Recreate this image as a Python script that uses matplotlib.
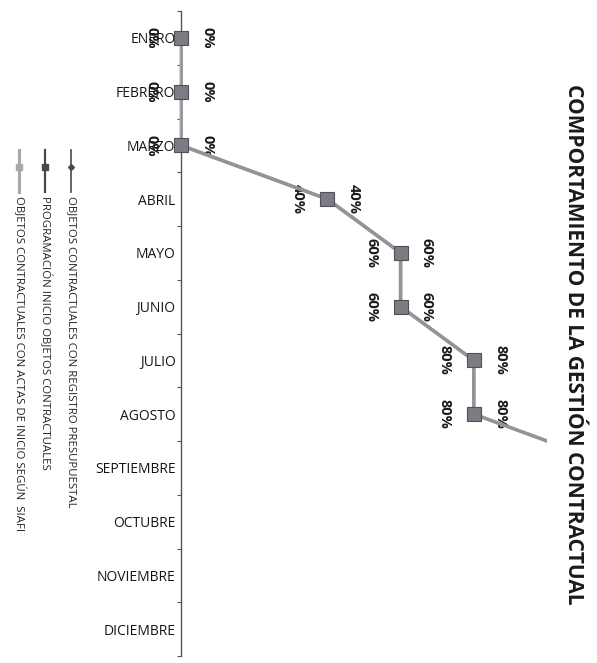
import numpy as np
import matplotlib
matplotlib.use("Agg")
import matplotlib.pyplot as plt
from matplotlib.lines import Line2D

plt.rcParams["font.family"] = ["Open Sans", "DejaVu Sans"]

MONTHS = ["ENERO", "FEBRERO", "MARZO", "ABRIL", "MAYO", "JUNIO", "JULIO",
          "AGOSTO", "SEPTIEMBRE", "OCTUBRE", "NOVIEMBRE", "DICIEMBRE"]
# values (fraction); NaN = no data
registro = [0.0, 0.0, 0.0, 0.4, 0.6, 0.6, 0.8, 0.8] + [np.nan] * 4
programacion = [0.0, 0.0, 0.0, 0.4, 0.6, 0.6, 0.8, 0.8, 1.2] + [np.nan] * 3
siafi = [0.0, 0.0, 0.0, 0.4, 0.6, 0.6, 0.8, 0.8] + [np.nan] * 4

LEGEND = ["OBJETOS CONTRACTUALES CON REGISTRO PRESUPUESTAL",
          "PROGRAMACIÓN INICIO OBJETOS CONTRACTUALES",
          "OBJETOS CONTRACTUALES CON ACTAS DE INICIO SEGÚN  SIAFI"]
TITLE = "COMPORTAMIENTO DE LA GESTIÓN CONTRACTUAL"

DARK = "#4a4a4e"; MID = "#939398"; LIGHT = "#a8a8ac"

W, H = 597, 663
fig = plt.figure(figsize=(W / 100, H / 100), dpi=100)
ax = fig.add_axes([181 / W, 7 / H, (547 - 181) / W, (656 - 11) / H])

y = np.arange(len(MONTHS))
ax.plot(registro, y, "-", color=DARK, lw=1.2, marker="D", ms=3, zorder=2, clip_on=False)
ax.plot(siafi, y, "-", color=LIGHT, lw=2.2, zorder=3, clip_on=False)
ax.plot(programacion, y, "-", color=MID, lw=2.6, zorder=4)
ax.plot(programacion[:8], y[:8], "s", ms=10, mfc="#7c7c84", mec="#505056", mew=0.8,
        zorder=5, clip_on=False)

for v, yy in zip(registro, y):
    if not np.isnan(v):
        ax.annotate("%d%%" % round(v * 100), (v, yy), textcoords="offset points",
                    xytext=(-21, 0), ha="center", va="center", rotation=270,
                    fontsize=10.5, fontweight="bold", color="#1a1a1a")
for v, yy in zip(programacion, y):
    if not np.isnan(v):
        ax.annotate("%d%%" % round(v * 100), (v, yy), textcoords="offset points",
                    xytext=(19, 0), ha="center", va="center", rotation=270,
                    fontsize=10.5, fontweight="bold", color="#1a1a1a",
                    annotation_clip=True)

ax.set_xlim(0, 1.0)
ax.set_ylim(len(MONTHS) - 0.5, -0.5)
ax.set_yticks(y)
ax.set_yticklabels(MONTHS, fontsize=10, color="#151515")
ax.set_yticks(np.arange(-0.5, len(MONTHS), 1), minor=True)
ax.tick_params(axis="y", which="major", length=0, pad=4)
ax.tick_params(axis="y", which="minor", length=3, color="#555555", width=0.8)
ax.set_xticks([])
for s in ["top", "right", "bottom"]:
    ax.spines[s].set_visible(False)
ax.spines["left"].set_color("#555555")
ax.spines["left"].set_linewidth(1.0)

fig.text(574 / W, 1 - 344 / H, TITLE, rotation=270, ha="center", va="center",
         fontsize=15, fontweight="bold", color="#1a1a1a")

# legend, rotated like the rest of the scan
leg_x = [71, 45, 19]
leg_style = [dict(color=DARK, lw=1.2, marker="D", ms=3),
             dict(color=DARK, lw=1.6, marker="s", ms=5),
             dict(color=LIGHT, lw=2.2, marker="s", ms=4)]
for lx, txt, st in zip(leg_x, LEGEND, leg_style):
    fig.add_artist(Line2D([lx / W, lx / W], [1 - 150 / H, 1 - 192 / H],
                          transform=fig.transFigure, color=st["color"], lw=st["lw"]))
    fig.add_artist(Line2D([lx / W], [1 - 167 / H], transform=fig.transFigure,
                          color=st["color"], marker=st["marker"], ms=st["ms"], ls="none"))
    fig.text(lx / W, 1 - 196 / H, txt, rotation=270, ha="center", va="top",
             fontsize=8.2, color="#222222")

fig.savefig("out.png", dpi=100)
